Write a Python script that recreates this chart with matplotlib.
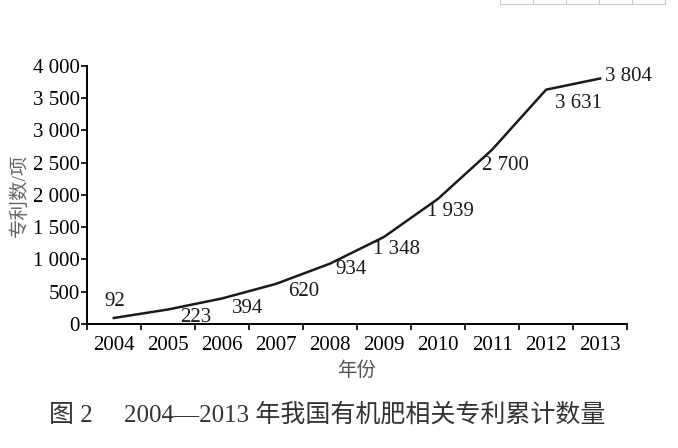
import matplotlib.pyplot as plt
from matplotlib.lines import Line2D

years = ['2004', '2005', '2006', '2007', '2008', '2009', '2010', '2011', '2012', '2013']
patents = [92, 223, 394, 620, 934, 1348, 1939, 2700, 3631, 3804]
label_text = ['92', '223', '394', '620', '934', '1 348', '1 939', '2 700', '3 631', '3 804']
y_ticks = [0, 500, 1000, 1500, 2000, 2500, 3000, 3500, 4000]
y_tick_labels = ['0', '500', '1 000', '1 500', '2 000', '2 500', '3 000', '3 500', '4 000']

# label offsets in pixels (dx, dy) from each point, left/center aligned
offsets = [(-9, 16), (12, -8), (10, -10), (12, -8), (5, -6), (-11, -13),
           (-11, -13), (-10, -16), (9, -14), (5, 2)]

plt.rcParams['font.family'] = ['Liberation Serif', 'Noto Sans CJK SC']

fig = plt.figure(figsize=(6.78, 4.48), dpi=100)
ax = fig.add_axes([0.128, 0.277, 0.797, 0.576])

x = [i + 0.5 for i in range(len(years))]
ax.plot(x, patents, color='#1a1a1a', lw=1.8)

for xi, yi, txt, (dx, dy) in zip(x, patents, label_text, offsets):
    ax.annotate(txt, (xi, yi), xytext=(dx, dy), textcoords='offset pixels',
                fontsize=15, ha='left', va='center', color='#1a1a1a')

ax.set_xlim(0, len(years))
ax.set_ylim(0, 4000)
ax.set_xticks(range(len(years) + 1))
ax.set_xticklabels([])
ax.set_xticks(x, minor=True)
ax.set_xticklabels(years, minor=True, fontsize=15)
ax.tick_params(axis='x', which='minor', length=0, pad=9)
ax.tick_params(axis='x', which='major', length=4, direction='out', width=1.2)
ax.set_yticks(y_ticks)
ax.set_yticklabels(y_tick_labels, fontsize=15)
ax.tick_params(axis='y', length=4, width=1.2, pad=1)

for side in ['top', 'right']:
    ax.spines[side].set_visible(False)
for side in ['left', 'bottom']:
    ax.spines[side].set_linewidth(1.4)

ax.set_xlabel('年份', fontsize=14, color='#555555', labelpad=4)
ax.set_ylabel('专利数/项', fontsize=14, color='#666666', labelpad=3)

fig.text(0.072, 0.073, '图 2     2004—2013 年我国有机肥相关专利累计数量',
         fontsize=18, color='#333333', ha='left', va='center')

# small web-page table fragment at top right
for xp in [500, 533, 566, 599, 632, 665]:
    fig.add_artist(Line2D([xp / 678, xp / 678], [1, 1 - 4 / 448], color='#cccccc', lw=0.8))
fig.add_artist(Line2D([500 / 678, 665 / 678], [1 - 4 / 448, 1 - 4 / 448], color='#cccccc', lw=0.8))

fig.savefig('out.png', dpi=100)
